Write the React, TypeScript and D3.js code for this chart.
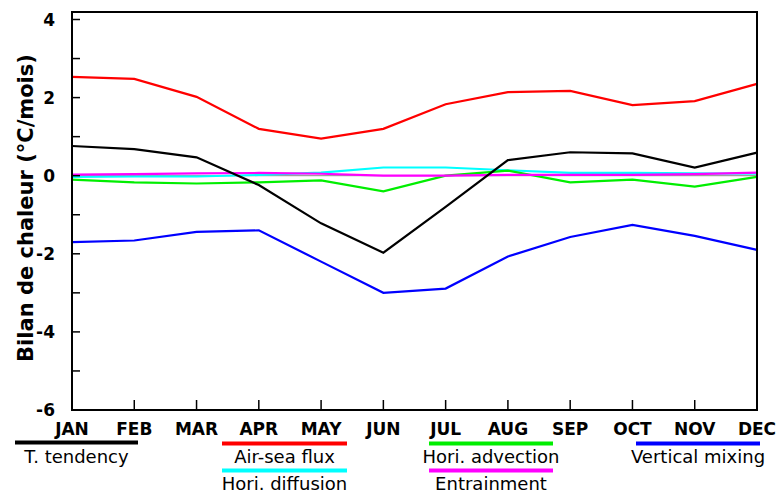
import React from "react";
import * as d3 from "d3";

const months = ["JAN","FEB","MAR","APR","MAY","JUN","JUL","AUG","SEP","OCT","NOV","DEC"];
const yTicks = [4, 2, 0, -2, -4, -6];
const yMinorTicks = [3, 1, -1, -3, -5];

const tTendency = [0.76, 0.68, 0.47, -0.24, -1.22, -1.97, -0.8, 0.4, 0.6, 0.57, 0.21, 0.59];
const airSeaFlux = [2.53, 2.48, 2.02, 1.2, 0.95, 1.2, 1.83, 2.14, 2.17, 1.81, 1.91, 2.35];
const horiAdvection = [-0.1, -0.17, -0.2, -0.17, -0.12, -0.4, 0.0, 0.13, -0.17, -0.1, -0.28, -0.03];
const horiDiffusion = [-0.03, -0.02, -0.02, 0.02, 0.08, 0.21, 0.21, 0.14, 0.07, 0.07, 0.06, 0.05];
const entrainment = [0.03, 0.04, 0.06, 0.07, 0.05, 0.0, 0.0, 0.02, 0.02, 0.02, 0.04, 0.08];
const verticalMixing = [-1.7, -1.66, -1.44, -1.4, -2.2, -3.0, -2.89, -2.07, -1.57, -1.26, -1.54, -1.9];

const seriesNames = ["T. tendency","Air-sea flux","Hori. diffusion","Hori. advection","Entrainment","Vertical mixing"];
const seriesColors = ["#000000","#ff0000","#00ffff","#00ee00","#ff00ff","#0000ff"];

export default function App() {
  const W = 779, H = 494;
  const x0 = 72, x1 = 757, yTop = 12;
  const x = d3.scalePoint<string>().domain(months).range([x0, x1]);
  const y = d3.scaleLinear().domain([-6, 4]).range([410, 19.5]);
  const seriesData = [tTendency, airSeaFlux, horiDiffusion, horiAdvection, entrainment, verticalMixing];
  const drawOrder = [2, 3, 4, 5, 1, 0];
  const line = d3.line<number>().x((_, i) => x(months[i]) as number).y(d => y(d));

  const legendPos = [
    [15, 138, 442.5, 463],
    [222, 347, 443.5, 463],
    [222, 347, 470.5, 490],
    [429, 553, 443.5, 463],
    [429, 553, 470.5, 490],
    [636, 760, 443.5, 463],
  ];
  const font = "'DejaVu Sans', Verdana, sans-serif";

  return (
    <svg width={W} height={H} style={{ position: "absolute", left: 0, top: 0 }} fontFamily={font}>
      <rect x={0} y={0} width={W} height={H} fill="#fff" />
      <line x1={x0} x2={x1} y1={y(0)} y2={y(0)} stroke="#888" strokeWidth={1} />
      {drawOrder.map(k => (
        <path key={k} d={line(seriesData[k]) || ""} fill="none" stroke={seriesColors[k]} strokeWidth={2.2} strokeLinejoin="miter" />
      ))}
      <rect x={x0} y={yTop} width={x1 - x0} height={y(-6) - yTop} fill="none" stroke="#000" strokeWidth={2} />
      {yTicks.concat(yMinorTicks).map(t => (
        <line key={"yt" + t} x1={x0} x2={x0 + 8} y1={y(t)} y2={y(t)} stroke="#000" strokeWidth={1.5} />
      ))}
      {yTicks.map(t => (
        <text key={"yl" + t} x={55} y={y(t)} dy="0.36em" textAnchor="end" fontSize={17} fontWeight="bold">{t}</text>
      ))}
      {months.map(m => (
        <g key={m}>
          <line x1={x(m)} x2={x(m)} y1={y(-6)} y2={y(-6) - 10} stroke="#000" strokeWidth={1.5} />
          <text x={x(m)} y={435} textAnchor="middle" fontSize={17} fontWeight="bold">{m}</text>
        </g>
      ))}
      <text transform={`translate(33,208) rotate(-90)`} textAnchor="middle" fontSize={21} fontWeight="bold">Bilan de chaleur (°C/mois)</text>
      {seriesNames.map((n, k) => {
        const [a, b, ly, ty] = legendPos[k];
        return (
          <g key={n}>
            <line x1={a} x2={b} y1={ly} y2={ly} stroke={seriesColors[k]} strokeWidth={4} />
            <text x={(a + b) / 2} y={ty} textAnchor="middle" fontSize={18}>{n}</text>
          </g>
        );
      })}
    </svg>
  );
}
